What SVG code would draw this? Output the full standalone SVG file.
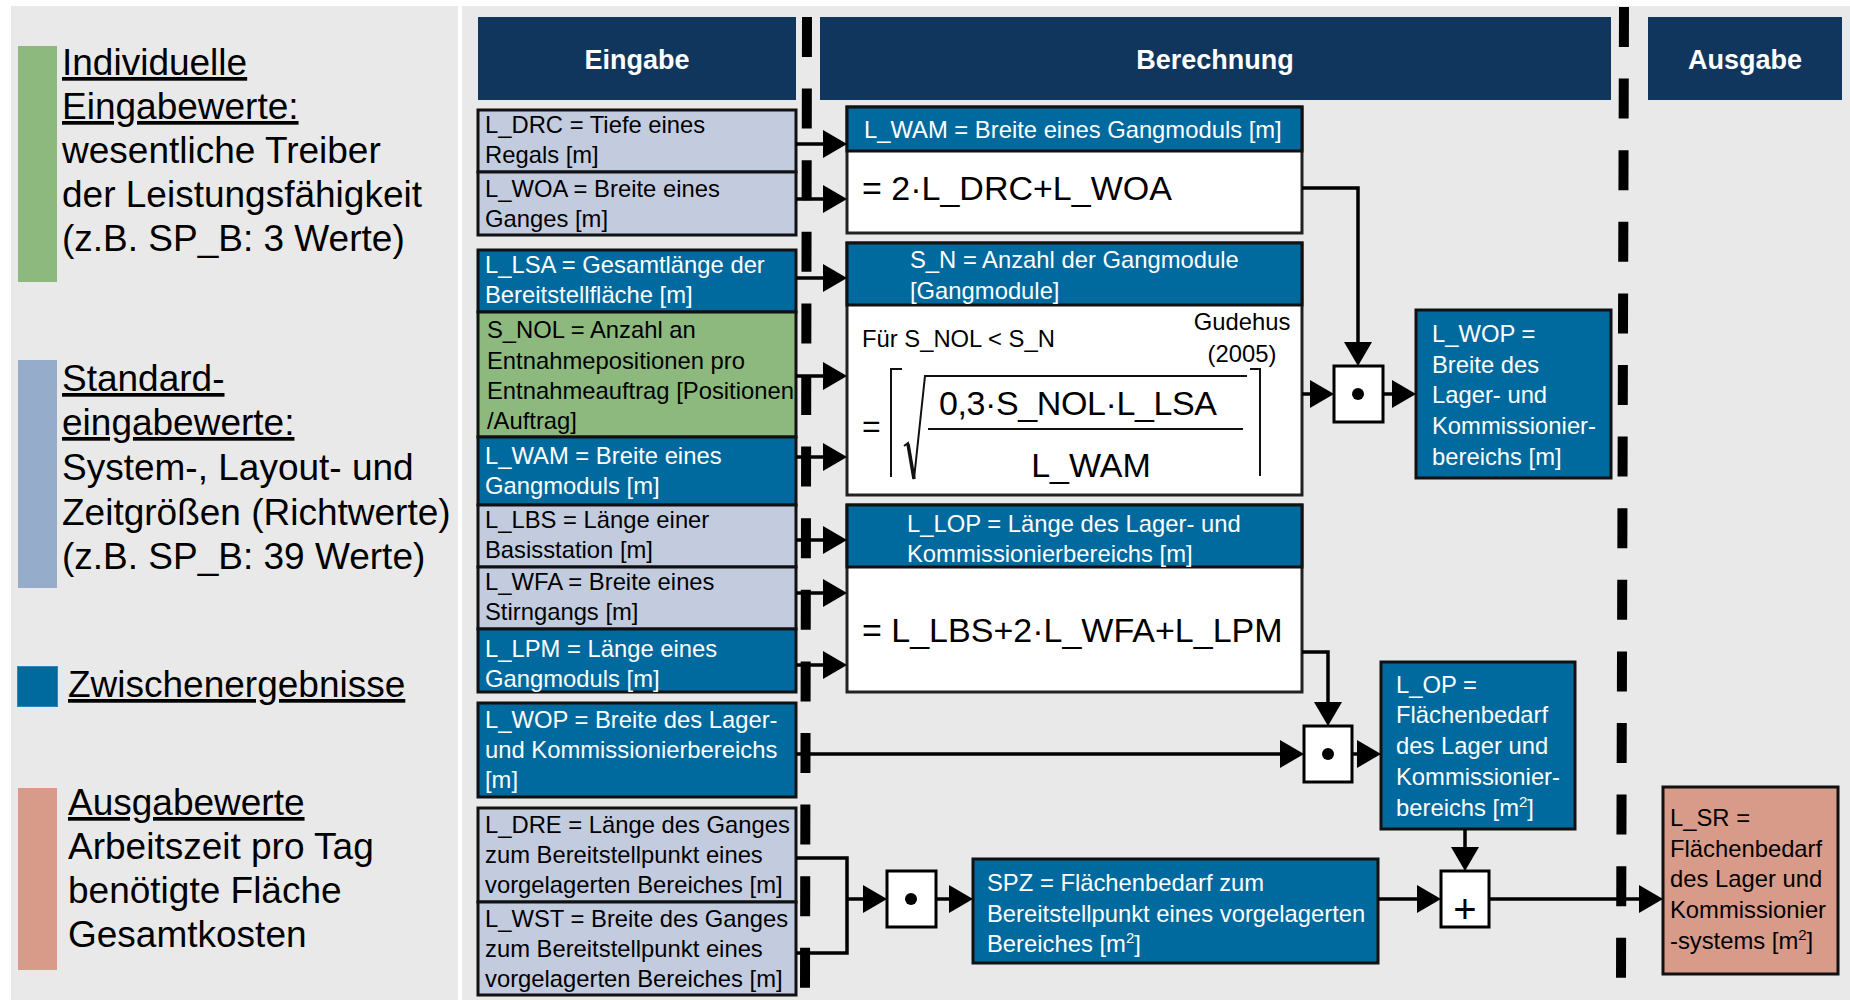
<svg xmlns="http://www.w3.org/2000/svg" width="1850" height="1000" viewBox="0 0 1850 1000">
<defs>
<style>
  text { font-family: "Liberation Sans", Arial, sans-serif; }
  .lg { font-size: 37px; fill: #000; }
  .ul { text-decoration: underline; }
  .hd { font-size: 27px; font-weight: bold; fill: #fff; text-anchor: middle; }
  .tw { font-size: 23.8px; fill: #fff; }
  .tk { font-size: 23.8px; fill: #000; }
  .fx { font-size: 34px; fill: #000; }
  .fr { font-size: 34px; fill: #000; text-anchor: middle; }
  .navy { fill: #11365E; }
  .light { fill: #C3CCDF; stroke: #111; stroke-width: 3; }
  .blue { fill: #006A9E; stroke: #111; stroke-width: 3; }
  .green { fill: #8DB97E; stroke: #111; stroke-width: 3; }
  .salmon { fill: #D99B89; stroke: #111; stroke-width: 3; }
  .white { fill: #fff; stroke: #222; stroke-width: 3; }
  .op { fill: #fff; stroke: #000; stroke-width: 3; }
  .conn { fill: none; stroke: #000; stroke-width: 3.5; marker-end: url(#ah); }
  .plain { fill: none; stroke: #000; stroke-width: 3.5; }
  .dash { fill: none; stroke: #000; stroke-width: 10; stroke-dasharray: 40 31.6; }
  .thin { fill: none; stroke: #111; stroke-width: 2; }
</style>
<marker id="ah" markerUnits="userSpaceOnUse" markerWidth="24" markerHeight="28" refX="20" refY="14" orient="auto">
  <path d="M0,0 L24,14 L0,28 z" fill="#000"/>
</marker>
</defs>

<!-- background panels -->
<rect x="0" y="0" width="1850" height="1000" fill="#fff"/>
<rect x="11" y="6" width="447" height="994" fill="#E9E9E9"/>
<rect x="462" y="6" width="1388" height="994" fill="#E9E9E9"/>

<!-- legend -->
<g id="legend-individual">
  <rect x="18" y="46" width="39" height="236" fill="#8DB97E"/>
  <text class="lg ul" x="62" y="75">Individuelle</text>
  <text class="lg ul" x="62" y="119">Eingabewerte:</text>
  <text class="lg" x="62" y="163">wesentliche Treiber</text>
  <text class="lg" x="62" y="207">der Leistungsfähigkeit</text>
  <text class="lg" x="62" y="251">(z.B. SP_B: 3 Werte)</text>
</g>
<g id="legend-standard">
  <rect x="18" y="360" width="39" height="228" fill="#95ACCB"/>
  <text class="lg ul" x="62" y="391">Standard-</text>
  <text class="lg ul" x="62" y="435">eingabewerte:</text>
  <text class="lg" x="62" y="480">System-, Layout- und</text>
  <text class="lg" x="62" y="525">Zeitgrößen (Richtwerte)</text>
  <text class="lg" x="62" y="569">(z.B. SP_B: 39 Werte)</text>
</g>
<g id="legend-intermediate">
  <rect x="17.5" y="666.5" width="40" height="40" fill="#006A9E" stroke="#2F86B8" stroke-width="1"/>
  <text class="lg ul" x="68" y="697">Zwischenergebnisse</text>
</g>
<g id="legend-output">
  <rect x="18" y="788" width="39" height="182" fill="#D99B89"/>
  <text class="lg ul" x="68" y="815">Ausgabewerte</text>
  <text class="lg" x="68" y="859">Arbeitszeit pro Tag</text>
  <text class="lg" x="68" y="903">benötigte Fläche</text>
  <text class="lg" x="68" y="947">Gesamtkosten</text>
</g>

<!-- column headers -->
<g id="hdr-eingabe"><rect class="navy" x="478" y="17" width="318" height="83"/><text class="hd" x="637" y="69">Eingabe</text></g>
<g id="hdr-berechnung"><rect class="navy" x="820" y="17" width="791" height="83"/><text class="hd" x="1215" y="69">Berechnung</text></g>
<g id="hdr-ausgabe"><rect class="navy" x="1648" y="17" width="194" height="83"/><text class="hd" x="1745" y="69">Ausgabe</text></g>

<!-- input values -->
<g id="in-l-drc"><rect class="light" x="478" y="110" width="318" height="62"/>
  <text class="tk" x="485" y="133">L_DRC = Tiefe eines</text><text class="tk" x="485" y="163">Regals [m]</text></g>
<g id="in-l-woa"><rect class="light" x="478" y="172" width="318" height="63"/>
  <text class="tk" x="485" y="197">L_WOA = Breite eines</text><text class="tk" x="485" y="227">Ganges [m]</text></g>
<g id="in-l-lsa"><rect class="blue" x="478" y="250" width="318" height="62"/>
  <text class="tw" x="485" y="273">L_LSA = Gesamtlänge der</text><text class="tw" x="485" y="303">Bereitstellfläche [m]</text></g>
<g id="in-s-nol"><rect class="green" x="478" y="312" width="318" height="125"/>
  <text class="tk" x="487" y="338">S_NOL = Anzahl an</text>
  <text class="tk" x="487" y="369">Entnahmepositionen pro</text>
  <text class="tk" x="487" y="399">Entnahmeauftrag [Positionen</text>
  <text class="tk" x="487" y="429">/Auftrag]</text></g>
<g id="in-l-wam"><rect class="blue" x="478" y="437" width="318" height="68"/>
  <text class="tw" x="485" y="464">L_WAM = Breite eines</text><text class="tw" x="485" y="494">Gangmoduls [m]</text></g>
<g id="in-l-lbs"><rect class="light" x="478" y="505" width="318" height="62"/>
  <text class="tk" x="485" y="528">L_LBS = Länge einer</text><text class="tk" x="485" y="558">Basisstation [m]</text></g>
<g id="in-l-wfa"><rect class="light" x="478" y="567" width="318" height="62"/>
  <text class="tk" x="485" y="590">L_WFA = Breite eines</text><text class="tk" x="485" y="620">Stirngangs [m]</text></g>
<g id="in-l-lpm"><rect class="blue" x="478" y="629" width="318" height="63"/>
  <text class="tw" x="485" y="657">L_LPM = Länge eines</text><text class="tw" x="485" y="687">Gangmoduls [m]</text></g>
<g id="in-l-wop"><rect class="blue" x="478" y="703" width="318" height="94"/>
  <text class="tw" x="485" y="728">L_WOP = Breite des Lager-</text>
  <text class="tw" x="485" y="758">und Kommissionierbereichs</text>
  <text class="tw" x="485" y="788">[m]</text></g>
<g id="in-l-dre"><rect class="light" x="478" y="808" width="318" height="94"/>
  <text class="tk" x="485" y="833">L_DRE = Länge des Ganges</text>
  <text class="tk" x="485" y="863">zum Bereitstellpunkt eines</text>
  <text class="tk" x="485" y="893">vorgelagerten Bereiches [m]</text></g>
<g id="in-l-wst"><rect class="light" x="478" y="902" width="318" height="93"/>
  <text class="tk" x="485" y="927">L_WST = Breite des Ganges</text>
  <text class="tk" x="485" y="957">zum Bereitstellpunkt eines</text>
  <text class="tk" x="485" y="987">vorgelagerten Bereiches [m]</text></g>

<!-- calculation blocks -->
<g id="calc-l-wam">
  <rect class="white" x="847" y="107" width="455" height="126"/>
  <rect class="blue" x="847" y="107" width="455" height="44"/>
  <text class="tw" x="864" y="138">L_WAM = Breite eines Gangmoduls [m]</text>
  <text class="fx" x="862" y="200">= 2·L_DRC+L_WOA</text>
</g>
<g id="calc-s-n">
  <rect class="white" x="847" y="243" width="455" height="252"/>
  <rect class="blue" x="847" y="243" width="455" height="62"/>
  <text class="tw" x="910" y="268">S_N = Anzahl der Gangmodule</text>
  <text class="tw" x="910" y="299">[Gangmodule]</text>
  <text class="tk" x="862" y="347">Für S_NOL &lt; S_N</text>
  <text class="tk" x="1242" y="330" text-anchor="middle">Gudehus</text>
  <text class="tk" x="1242" y="362" text-anchor="middle">(2005)</text>
  <text x="862" y="437" font-size="32" fill="#000">=</text>
  <path class="thin" d="M902,369 H891 V477"/>
  <path class="thin" d="M1250,369 H1260 V476"/>
  <path class="thin" d="M904,446 L908,443 L914,479 L925,376 H1247"/>
  <path d="M908,444 L914,479" stroke="#111" stroke-width="3.5" fill="none"/>
  <path class="thin" d="M928,429 H1243"/>
  <text class="fr" x="1078" y="415" textLength="278" lengthAdjust="spacing">0,3·S_NOL·L_LSA</text>
  <text class="fr" x="1091" y="477">L_WAM</text>
</g>
<g id="calc-l-lop">
  <rect class="white" x="847" y="505" width="455" height="187"/>
  <rect class="blue" x="847" y="505" width="455" height="62"/>
  <text class="tw" x="907" y="532">L_LOP = Länge des Lager- und</text>
  <text class="tw" x="907" y="562">Kommissionierbereichs [m]</text>
  <text class="fx" x="862" y="642">= L_LBS+2·L_WFA+L_LPM</text>
</g>

<!-- operators -->
<g id="op-mul-wop"><rect class="op" x="1334" y="366" width="49" height="56"/><circle cx="1358" cy="394" r="6"/></g>
<g id="op-mul-op"><rect class="op" x="1304" y="726" width="48" height="56"/><circle cx="1328" cy="754" r="6"/></g>
<g id="op-mul-spz"><rect class="op" x="887" y="871" width="49" height="56"/><circle cx="911" cy="899" r="6"/></g>
<g id="op-add"><rect class="op" x="1441" y="871" width="48" height="56"/><text x="1465" y="923" font-size="40" text-anchor="middle" fill="#000">+</text></g>

<!-- intermediate and output results -->
<g id="res-l-wop"><rect class="blue" x="1416" y="310" width="195" height="168"/>
  <text class="tw" x="1432" y="342">L_WOP =</text>
  <text class="tw" x="1432" y="373">Breite des</text>
  <text class="tw" x="1432" y="403">Lager- und</text>
  <text class="tw" x="1432" y="434">Kommissionier-</text>
  <text class="tw" x="1432" y="465">bereichs [m]</text></g>
<g id="res-l-op"><rect class="blue" x="1381" y="662" width="194" height="167"/>
  <text class="tw" x="1396" y="693">L_OP =</text>
  <text class="tw" x="1396" y="723">Flächenbedarf</text>
  <text class="tw" x="1396" y="754">des Lager und</text>
  <text class="tw" x="1396" y="785">Kommissionier-</text>
  <text class="tw" x="1396" y="816">bereichs [m<tspan dy="-9" font-size="15">2</tspan><tspan dy="9">]</tspan></text></g>
<g id="res-spz"><rect class="blue" x="973" y="859" width="405" height="104"/>
  <text class="tw" x="987" y="891">SPZ = Flächenbedarf zum</text>
  <text class="tw" x="987" y="922">Bereitstellpunkt eines vorgelagerten</text>
  <text class="tw" x="987" y="952">Bereiches [m<tspan dy="-9" font-size="15">2</tspan><tspan dy="9">]</tspan></text></g>
<g id="out-l-sr"><rect class="salmon" x="1663" y="787" width="175" height="187"/>
  <text class="tk" x="1670" y="826">L_SR =</text>
  <text class="tk" x="1670" y="857">Flächenbedarf</text>
  <text class="tk" x="1670" y="887">des Lager und</text>
  <text class="tk" x="1670" y="918">Kommissionier</text>
  <text class="tk" x="1670" y="949">-systems [m<tspan dy="-9" font-size="15">2</tspan><tspan dy="9">]</tspan></text></g>

<!-- connectors -->
<g id="connectors">
  <path class="conn" d="M796,144 H843"/>
  <path class="conn" d="M796,199 H843"/>
  <path class="conn" d="M796,278 H843"/>
  <path class="conn" d="M796,376 H843"/>
  <path class="conn" d="M796,457 H843"/>
  <path class="conn" d="M796,540 H843"/>
  <path class="conn" d="M796,593 H843"/>
  <path class="conn" d="M796,665 H843"/>
  <path class="conn" d="M1302,188 H1358 V362"/>
  <path class="conn" d="M1302,394 H1330"/>
  <path class="conn" d="M1383,394 H1412"/>
  <path class="conn" d="M796,754 H1300"/>
  <path class="conn" d="M1302,652 H1328 V722"/>
  <path class="conn" d="M1352,754 H1377"/>
  <path class="conn" d="M1465,829 V867"/>
  <path class="conn" d="M1489,899 H1659"/>
  <path class="conn" d="M1378,899 H1437"/>
  <path class="conn" d="M936,899 H969"/>
  <path class="plain" d="M796,858 H847 V953 H796"/>
  <path class="conn" d="M847,899 H883"/>
</g>

<!-- phase separators -->
<path class="dash" d="M807,17 L805,991"/>
<path class="dash" d="M1624,7 L1621,978"/>
</svg>
